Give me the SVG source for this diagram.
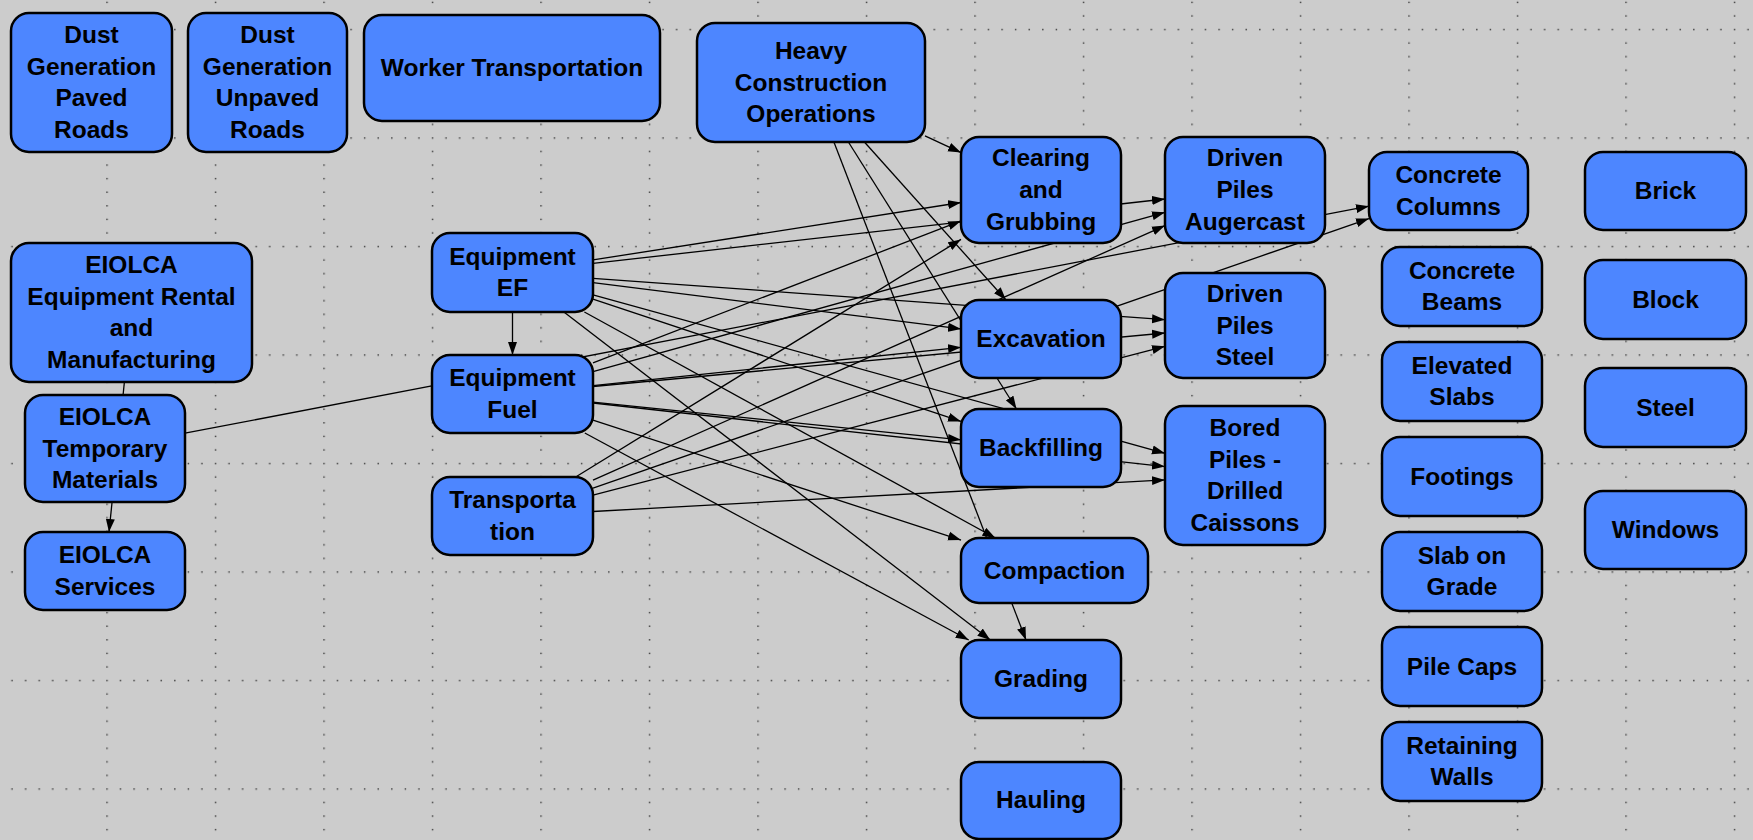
<svg xmlns="http://www.w3.org/2000/svg" width="1753" height="840" viewBox="0 0 1753 840">
<defs>
<style>
.n rect{fill:#4D86FF;stroke:#000;stroke-width:2.5}
.n text{font-family:"Liberation Sans",Arial,sans-serif;font-weight:bold;font-size:24.5px;fill:#000;text-anchor:middle}
.e line{stroke:#000;stroke-width:1.3;fill:none}
.e .a{marker-end:url(#arr)}
</style>
<marker id="arr" markerWidth="14" markerHeight="10" refX="13" refY="5" orient="auto" markerUnits="userSpaceOnUse"><path d="M0,0.5 L13,5 L0,9.5 z" fill="#000"/></marker>
<pattern id="grid" x="-2.2" y="-79.7" width="108.5" height="108.5" patternUnits="userSpaceOnUse">
<g fill="#333">
<rect x="0" y="0" width="1.4" height="1.4"/><rect x="13.56" y="0" width="1.4" height="1.4"/><rect x="27.12" y="0" width="1.4" height="1.4"/><rect x="40.69" y="0" width="1.4" height="1.4"/><rect x="54.25" y="0" width="1.4" height="1.4"/><rect x="67.81" y="0" width="1.4" height="1.4"/><rect x="81.37" y="0" width="1.4" height="1.4"/><rect x="94.94" y="0" width="1.4" height="1.4"/>
<rect x="0" y="13.56" width="1.4" height="1.4"/><rect x="0" y="27.12" width="1.4" height="1.4"/><rect x="0" y="40.69" width="1.4" height="1.4"/><rect x="0" y="54.25" width="1.4" height="1.4"/><rect x="0" y="67.81" width="1.4" height="1.4"/><rect x="0" y="81.37" width="1.4" height="1.4"/><rect x="0" y="94.94" width="1.4" height="1.4"/>
</g>
</pattern>
</defs>
<rect x="0" y="0" width="1753" height="840" fill="#CCCCCC"/>
<rect x="0" y="0" width="1753" height="840" fill="url(#grid)"/>

<g id="connectors" class="e">
<line class="a" x1="925" y1="135.8" x2="961" y2="152.6"/>
<line class="a" x1="864.4" y1="142" x2="1006" y2="300"/>
<line class="a" x1="848.4" y1="142" x2="1016.5" y2="409"/>
<line class="a" x1="833.9" y1="142" x2="1026" y2="640"/>
<line class="a" x1="512.5" y1="312" x2="512.5" y2="355"/>
<line class="a" x1="593" y1="259.9" x2="961" y2="202.5"/>
<line class="a" x1="593" y1="263.4" x2="1165" y2="199"/>
<line class="a" x1="593" y1="282.6" x2="961" y2="328.9"/>
<line class="a" x1="593" y1="278.3" x2="1165" y2="319.7"/>
<line class="a" x1="593" y1="294.8" x2="1165" y2="453.3"/>
<line class="a" x1="593" y1="299.2" x2="961" y2="421.4"/>
<line class="a" x1="584.4" y1="312" x2="995.4" y2="538"/>
<line class="a" x1="563.9" y1="312" x2="990.3" y2="640"/>
<line class="a" x1="593" y1="362.9" x2="961" y2="220.9"/>
<line class="a" x1="593" y1="371.6" x2="1165" y2="212.3"/>
<line class="a" x1="593" y1="385.6" x2="961" y2="347.3"/>
<line class="a" x1="593" y1="386.5" x2="1165" y2="333"/>
<line class="a" x1="593" y1="403" x2="1165" y2="466.6"/>
<line class="a" x1="593" y1="402.2" x2="961" y2="439.8"/>
<line class="a" x1="593" y1="420.2" x2="961" y2="540.1"/>
<line class="a" x1="584.8" y1="433" x2="968.7" y2="640"/>
<line class="a" x1="575.7" y1="477" x2="961" y2="239.4"/>
<line class="a" x1="593" y1="480.2" x2="1165" y2="225.6"/>
<line class="a" x1="593" y1="495.1" x2="1165" y2="346.3"/>
<line class="a" x1="593" y1="511.5" x2="1165" y2="479.9"/>
<line class="a" x1="593" y1="488.1" x2="1369" y2="218.6"/>
<line class="a" x1="124.4" y1="382" x2="109" y2="532"/>
<line class="a" x1="185" y1="433.2" x2="1369" y2="206.2"/>
</g>

<g id="n-dust-paved" class="n"><rect x="11" y="13" width="161" height="139" rx="18"/><text x="91.5" y="42.8">Dust</text><text x="91.5" y="74.6">Generation</text><text x="91.5" y="106.4">Paved</text><text x="91.5" y="138.2">Roads</text></g>
<g id="n-dust-unpaved" class="n"><rect x="188" y="13" width="159" height="139" rx="18"/><text x="267.5" y="42.8">Dust</text><text x="267.5" y="74.6">Generation</text><text x="267.5" y="106.4">Unpaved</text><text x="267.5" y="138.2">Roads</text></g>
<g id="n-worker" class="n"><rect x="364" y="15" width="296" height="106" rx="18"/><text x="512" y="76">Worker Transportation</text></g>
<g id="n-hco" class="n"><rect x="697" y="23" width="228" height="119" rx="18"/><text x="811" y="58.7">Heavy</text><text x="811" y="90.5">Construction</text><text x="811" y="122.3">Operations</text></g>
<g id="n-rental" class="n"><rect x="11" y="243" width="241" height="139" rx="18"/><text x="131.5" y="272.8">EIOLCA</text><text x="131.5" y="304.6">Equipment Rental</text><text x="131.5" y="336.4">and</text><text x="131.5" y="368.2">Manufacturing</text></g>
<g id="n-temporary" class="n"><rect x="25" y="395" width="160" height="107" rx="18"/><text x="105" y="424.7">EIOLCA</text><text x="105" y="456.5">Temporary</text><text x="105" y="488.3">Materials</text></g>
<g id="n-services" class="n"><rect x="25" y="532" width="160" height="78" rx="18"/><text x="105" y="563.1">EIOLCA</text><text x="105" y="594.9">Services</text></g>
<g id="n-equipment-ef" class="n"><rect x="432" y="233" width="161" height="79" rx="18"/><text x="512.5" y="264.6">Equipment</text><text x="512.5" y="296.4">EF</text></g>
<g id="n-equipment-fuel" class="n"><rect x="432" y="355" width="161" height="78" rx="18"/><text x="512.5" y="386.1">Equipment</text><text x="512.5" y="417.9">Fuel</text></g>
<g id="n-transportation" class="n"><rect x="432" y="477" width="161" height="78" rx="18"/><text x="512.5" y="508.1">Transporta</text><text x="512.5" y="539.9">tion</text></g>
<g id="n-clearing" class="n"><rect x="961" y="137" width="160" height="106" rx="18"/><text x="1041" y="166.2">Clearing</text><text x="1041" y="198">and</text><text x="1041" y="229.8">Grubbing</text></g>
<g id="n-excavation" class="n"><rect x="961" y="300" width="160" height="78" rx="18"/><text x="1041" y="347">Excavation</text></g>
<g id="n-backfilling" class="n"><rect x="961" y="409" width="160" height="78" rx="18"/><text x="1041" y="456">Backfilling</text></g>
<g id="n-compaction" class="n"><rect x="961" y="538" width="187" height="65" rx="18"/><text x="1054.5" y="578.5">Compaction</text></g>
<g id="n-grading" class="n"><rect x="961" y="640" width="160" height="78" rx="18"/><text x="1041" y="687">Grading</text></g>
<g id="n-hauling" class="n"><rect x="961" y="762" width="160" height="77" rx="18"/><text x="1041" y="808">Hauling</text></g>
<g id="n-augercast" class="n"><rect x="1165" y="137" width="160" height="106" rx="18"/><text x="1245" y="166.2">Driven</text><text x="1245" y="198">Piles</text><text x="1245" y="229.8">Augercast</text></g>
<g id="n-driven-steel" class="n"><rect x="1165" y="273" width="160" height="105" rx="18"/><text x="1245" y="301.7">Driven</text><text x="1245" y="333.5">Piles</text><text x="1245" y="365.3">Steel</text></g>
<g id="n-bored" class="n"><rect x="1165" y="406" width="160" height="139" rx="18"/><text x="1245" y="435.8">Bored</text><text x="1245" y="467.6">Piles -</text><text x="1245" y="499.4">Drilled</text><text x="1245" y="531.2">Caissons</text></g>
<g id="n-concrete-columns" class="n"><rect x="1369" y="152" width="159" height="78" rx="18"/><text x="1448.5" y="183.1">Concrete</text><text x="1448.5" y="214.9">Columns</text></g>
<g id="n-concrete-beams" class="n"><rect x="1382" y="247" width="160" height="79" rx="18"/><text x="1462" y="278.6">Concrete</text><text x="1462" y="310.4">Beams</text></g>
<g id="n-elevated-slabs" class="n"><rect x="1382" y="342" width="160" height="79" rx="18"/><text x="1462" y="373.6">Elevated</text><text x="1462" y="405.4">Slabs</text></g>
<g id="n-footings" class="n"><rect x="1382" y="437" width="160" height="79" rx="18"/><text x="1462" y="484.5">Footings</text></g>
<g id="n-slab-on-grade" class="n"><rect x="1382" y="532" width="160" height="79" rx="18"/><text x="1462" y="563.6">Slab on</text><text x="1462" y="595.4">Grade</text></g>
<g id="n-pile-caps" class="n"><rect x="1382" y="627" width="160" height="79" rx="18"/><text x="1462" y="674.5">Pile Caps</text></g>
<g id="n-retaining-walls" class="n"><rect x="1382" y="722" width="160" height="79" rx="18"/><text x="1462" y="753.6">Retaining</text><text x="1462" y="785.4">Walls</text></g>
<g id="n-brick" class="n"><rect x="1585" y="152" width="161" height="78" rx="18"/><text x="1665.5" y="199">Brick</text></g>
<g id="n-block" class="n"><rect x="1585" y="260" width="161" height="79" rx="18"/><text x="1665.5" y="307.5">Block</text></g>
<g id="n-steel" class="n"><rect x="1585" y="368" width="161" height="79" rx="18"/><text x="1665.5" y="415.5">Steel</text></g>
<g id="n-windows" class="n"><rect x="1585" y="491" width="161" height="78" rx="18"/><text x="1665.5" y="538">Windows</text></g>
</svg>
